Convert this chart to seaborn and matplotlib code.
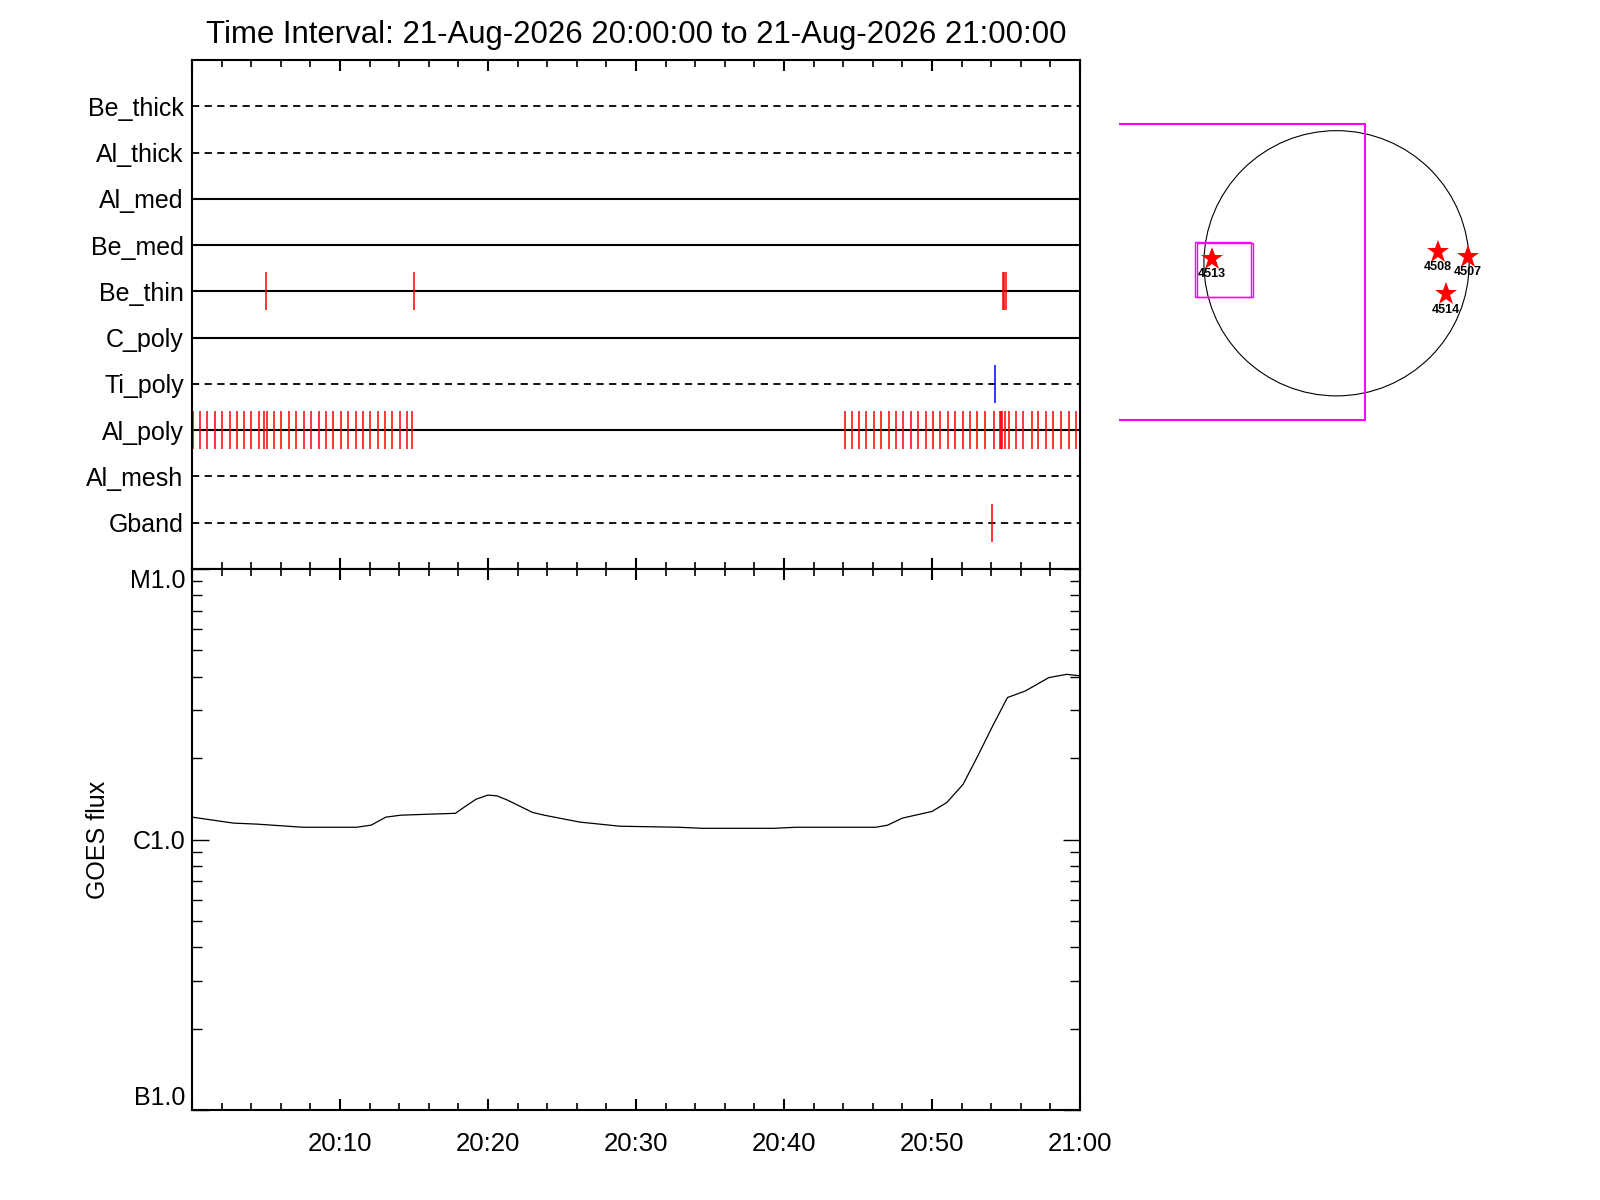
import numpy as np
import pandas as pd
import matplotlib
matplotlib.use("Agg")
import matplotlib.pyplot as plt
import matplotlib.dates as mdates
import matplotlib.ticker as mticker
from matplotlib.patches import Circle, Rectangle
import seaborn as sns

# filas del panel de filtros (de arriba a abajo)
filtros = ['Be_thick', 'Al_thick', 'Al_med', 'Be_med', 'Be_thin',
           'C_poly', 'Ti_poly', 'Al_poly', 'Al_mesh', 'Gband']
discontinuo = [True, True, False, False, False, False, True, False, True, True]

# tiempos de las exposiciones, minutos desde las 20:00
t_be_thin = [5.0, 15.0, 54.8, 54.87, 55.0]
t_ti_poly = [54.25]
t_gband = [54.05]
t_al_poly = [0.05, 0.55, 1.0, 1.55, 2.0, 2.55, 3.05, 3.5, 4.0, 4.5, 4.85, 5.05,
             5.55, 6.0, 6.55, 7.05, 7.55, 8.05, 8.55, 9.05, 9.55, 10.05, 10.55,
             11.05, 11.55, 12.0, 12.55, 13.05, 13.5, 14.05, 14.5, 14.85,
             44.1, 44.6, 45.05, 45.55, 46.1, 46.55, 47.1, 47.55, 48.05, 48.6,
             49.05, 49.6, 50.05, 50.55, 51.1, 51.55, 52.1, 52.55, 53.05, 53.6,
             54.2, 54.6, 54.67, 54.75, 54.95, 55.2, 55.7, 56.15, 56.75,
             57.15, 57.7, 58.2, 58.7, 59.25, 59.7]

# curva GOES (minutos, flujo W/m^2)
goes_min = [0.0, 2.8, 4.4, 7.5, 11.1, 12.1, 13.1, 14.1, 15.9, 17.8, 18.5, 19.2,
            20.0, 20.6, 21.3, 23.0, 23.8, 26.2, 28.9, 32.9, 34.5, 39.3, 40.8,
            43.2, 46.2, 47.0, 48.0, 50.0, 51.0, 52.1, 53.1, 54.1, 55.1, 56.3,
            57.9, 59.1, 60.0]
goes_flux = [1.21e-6, 1.15e-6, 1.14e-6, 1.11e-6, 1.11e-6, 1.13e-6, 1.21e-6,
             1.23e-6, 1.24e-6, 1.25e-6, 1.33e-6, 1.41e-6, 1.46e-6, 1.45e-6,
             1.40e-6, 1.26e-6, 1.23e-6, 1.16e-6, 1.12e-6, 1.11e-6, 1.10e-6,
             1.10e-6, 1.11e-6, 1.11e-6, 1.11e-6, 1.13e-6, 1.20e-6, 1.27e-6,
             1.37e-6, 1.60e-6, 2.04e-6, 2.63e-6, 3.35e-6, 3.54e-6, 3.97e-6,
             4.08e-6, 4.03e-6]

# disco solar (arcsec)
radio_sol = 950
regiones = ['4513', '4508', '4507', '4514']
reg_x = [-892, 725, 940, 782]
reg_y = [29, 83, 47, -222]
fov_grande = [-2200, -1123, 204, 996]        # x0, y0, x1, y1
fov_peq = [[-1014, -239, -615, 155], [-999, -244, -596, 148]]

inicio = pd.Timestamp('2026-08-21 20:00:00')


def a_fecha(minutos):
    t = inicio + pd.to_timedelta(np.asarray(minutos, dtype=float), unit='m')
    return mdates.date2num(t.to_pydatetime())


sns.set_theme(style='white')
plt.rcParams['font.family'] = ['Liberation Sans', 'DejaVu Sans']
plt.rcParams['axes.edgecolor'] = 'black'
plt.rcParams['axes.linewidth'] = 1.5
for clave in ['text.color', 'axes.labelcolor', 'xtick.color', 'ytick.color']:
    plt.rcParams[clave] = 'black'

fig = plt.figure(figsize=(16, 12), dpi=100)
ax1 = fig.add_axes([0.12, 0.5258, 0.555, 0.4242])
ax2 = fig.add_axes([0.12, 0.075, 0.555, 0.4508])
ax3 = fig.add_axes([0.6994, 0.5833, 0.275, 0.3667])

x0, x1 = a_fecha([0, 60])

# panel de filtros
n = len(filtros)
niveles = np.arange(n, 0, -1)
for nivel, disc in zip(niveles, discontinuo):
    if disc:
        ax1.plot([x0, x1], [nivel, nivel], color='black', lw=1.3, dashes=(4, 3))
    else:
        ax1.plot([x0, x1], [nivel, nivel], color='black', lw=1.5)

eventos = {'Be_thin': (t_be_thin, '#ff0000'),
           'Ti_poly': (t_ti_poly, '#0000ff'),
           'Al_poly': (t_al_poly, '#ff0000'),
           'Gband': (t_gband, '#ff0000')}
for nombre, (tiempos, color) in eventos.items():
    nivel = niveles[filtros.index(nombre)]
    ax1.vlines(a_fecha(tiempos), nivel - 0.41, nivel + 0.41, color=color, lw=1.1)

ax1.set_ylim(0, n + 1)
ax1.set_yticks(niveles, labels=filtros)
ax1.tick_params(axis='y', length=0, pad=6, labelsize=18)
ax1.set_title('Time Interval: 21-Aug-2026 20:00:00 to 21-Aug-2026 21:00:00',
              fontsize=22.4, pad=12)

# curva GOES
df_goes = pd.DataFrame({'t': a_fecha(goes_min), 'flux': goes_flux})
sns.lineplot(data=df_goes, x='t', y='flux', ax=ax2, color='black', lw=0.9)
ax2.set_yscale('log')
ax2.set_ylim(1e-7, 1e-5)
ax2.set_yticks([1e-7, 1e-6, 1e-5], labels=['B1.0', 'C1.0', 'M1.0'])
ax2.yaxis.set_minor_locator(mticker.LogLocator(base=10, subs=np.arange(2, 10)))
ax2.yaxis.set_minor_formatter(mticker.NullFormatter())
etiq = ax2.get_yticklabels()
etiq[0].set_va('bottom')
etiq[-1].set_va('top')
ax2.tick_params(axis='y', which='major', direction='in', length=12, width=1.0,
                left=True, right=True, labelsize=18, pad=5)
ax2.tick_params(axis='y', which='minor', direction='in', length=7, width=1.0,
                left=True, right=True)
ax2.set_xlabel('')
ax2.set_ylabel('GOES flux', fontsize=18, labelpad=14)

for ax in (ax1, ax2):
    ax.set_xlim(x0, x1)
    ax.xaxis.set_major_locator(mdates.MinuteLocator(byminute=range(0, 60, 10)))
    ax.xaxis.set_minor_locator(mdates.MinuteLocator(byminute=range(0, 60, 2)))
    ax.tick_params(axis='x', which='major', direction='in', length=8, width=1.5,
                   top=True, bottom=True)
    ax.tick_params(axis='x', which='minor', direction='in', length=5, width=1.2,
                   top=True, bottom=True)
    ax.grid(False)

ax1.tick_params(axis='x', labelbottom=False)


def formato_hora(x, pos):
    if pos == 0:
        return ''
    return mdates.num2date(x).strftime('%H:%M')


ax2.xaxis.set_major_formatter(mticker.FuncFormatter(formato_hora))
ax2.tick_params(axis='x', labelsize=18.5, pad=16)

# disco solar con regiones activas
ax3.add_patch(Circle((0, 0), radio_sol, fill=False, color='black', lw=0.8))
xa, ya, xb, yb = fov_grande
ax3.add_patch(Rectangle((xa, ya), xb - xa, yb - ya, fill=False,
                        edgecolor='#ff00ff', lw=1.5))
for xa, ya, xb, yb in fov_peq:
    ax3.add_patch(Rectangle((xa, ya), xb - xa, yb - ya, fill=False,
                            edgecolor='#ff00ff', lw=1.0))
ax3.plot(reg_x, reg_y, ls='none', marker='*', ms=17, color='#ff0000',
         markeredgewidth=0)
for nom, xr, yr in zip(regiones, reg_x, reg_y):
    ax3.annotate(nom, (xr, yr), xytext=(0, -11), textcoords='offset points',
                 ha='center', va='center', fontsize=9, fontweight='bold',
                 color='black')
ax3.set_xlim(-1558, 1594)
ax3.set_ylim(-1696, 1456)
ax3.set_aspect('equal')
ax3.axis('off')

fig.savefig('out.png', dpi=100, facecolor='white')
